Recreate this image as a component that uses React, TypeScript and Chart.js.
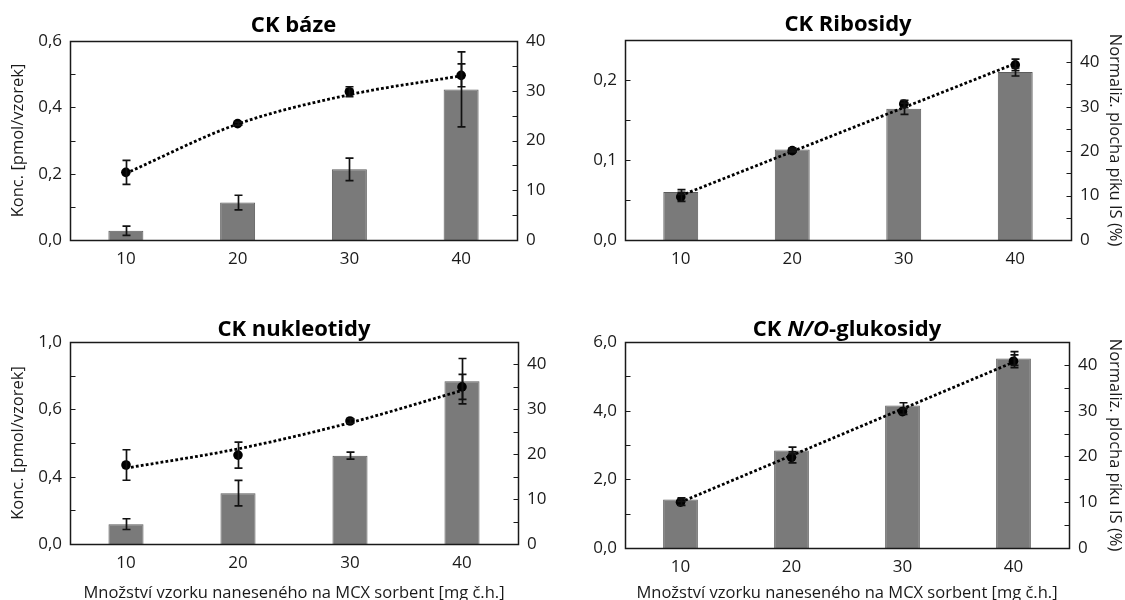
import React, { useEffect, useRef } from "react";
import { Chart, registerables } from "chart.js";

Chart.register(...registerables);

// ---------- data ----------
const categories = ["10", "20", "30", "40"];
const areaTickLabels = ["0", "10", "20", "30", "40"];

// CK báze
const bazeConc = [0.028, 0.113, 0.213, 0.454];
const bazeConcErr = [0.014, 0.022, 0.034, 0.113];
const bazeArea = [13.6, 23.4, 29.8, 33.1];
const bazeAreaErr = [2.4, 0.3, 1.0, 2.3];
const bazeTrend = [13.4, 23.3, 29.2, 33.0];
const bazeConcTicks = ["0,0", "0,2", "0,4", "0,6"];

// CK Ribosidy
const riboConc = [0.06, 0.113, 0.164, 0.21];
const riboConcErr = [0.003, 0.002, 0.007, 0.005];
const riboArea = [9.7, 20.1, 30.6, 39.4];
const riboAreaErr = [1.0, 0.3, 0.8, 1.3];
const riboTrend = [10.0, 19.9, 29.8, 39.7];
const riboConcTicks = ["0,0", "0,1", "0,2"];

// CK nukleotidy
const nukConc = [0.118, 0.302, 0.525, 0.967];
const nukConcErr = [0.032, 0.076, 0.021, 0.135];
const nukArea = [17.6, 19.8, 27.4, 35.0];
const nukAreaErr = [3.4, 2.9, 0.5, 2.8];
const nukTrend = [16.9, 21.2, 27.0, 34.2];
const nukConcTicks = ["0,0", "0,4", "0,6", "1,0"];

// CK N/O-glukosidy
const glukConc = [1.41, 2.84, 4.15, 5.52];
const glukConcErr = [0.05, 0.1, 0.08, 0.2];
const glukArea = [10.0, 19.8, 29.8, 40.8];
const glukAreaErr = [0.7, 1.2, 0.6, 1.4];
const glukTrend = [10.0, 20.2, 30.4, 40.6];
const glukConcTicks = ["0,0", "2,0", "4,0", "6,0"];

const leftTitle = "Konc. [pmol/vzorek]";
const rightTitle = "Normaliz. plocha píku IS (%)";
const xTitle = "Množství vzorku naneseného na MCX sorbent [mg č.h.]";

// ---------- component ----------
const FONT = "'Open Sans', 'DejaVu Sans', sans-serif";
const TEXT = "#1a1a1a";

type Seg = { t: string; italic?: boolean };

type PanelProps = {
  x: number; y: number; w: number; h: number;
  area: { l: number; r: number; t: number; b: number };
  title: Seg[]; titleY: number;
  conc: number[]; concErr: number[];
  pts: number[]; ptsErr: number[]; trend: number[];
  yMax: number; yStep: number; yTicks: string[]; yLabelEvery: number;
  y2Max: number;
  showLeftTitle?: boolean; showRightTitle?: boolean; showXTitle?: boolean;
};

function Panel(p: PanelProps) {
  const ref = useRef<HTMLCanvasElement | null>(null);
  useEffect(() => {
    const canvas = ref.current!;
    const errorBars = {
      id: "errorBars",
      afterDatasetsDraw(chart: any) {
        const ctx = chart.ctx;
        chart.data.datasets.forEach((ds: any, i: number) => {
          const errs = ds.errors;
          if (!errs) return;
          const meta = chart.getDatasetMeta(i);
          const scale = chart.scales[ds.yAxisID];
          ctx.save();
          ctx.strokeStyle = "#111";
          ctx.lineWidth = 1.7;
          meta.data.forEach((el: any, j: number) => {
            const v = ds.data[j];
            const e = errs[j];
            const x = Math.round(el.x) + 0.5;
            const ya = scale.getPixelForValue(v + e);
            const yb = scale.getPixelForValue(v - e);
            ctx.beginPath();
            ctx.moveTo(x, ya);
            ctx.lineTo(x, yb);
            ctx.moveTo(x - 4, ya);
            ctx.lineTo(x + 4, ya);
            ctx.moveTo(x - 4, yb);
            ctx.lineTo(x + 4, yb);
            ctx.stroke();
          });
          ctx.restore();
        });
      },
    };
    const frame = {
      id: "frame",
      afterDraw(chart: any) {
        const ctx = chart.ctx;
        const a = chart.chartArea;
        ctx.save();
        ctx.strokeStyle = "#1a1a1a";
        ctx.lineWidth = 1.5;
        const l = Math.round(a.left) + 0.5;
        const r = Math.round(a.right) + 0.5;
        const t = Math.round(a.top) + 0.5;
        const b = Math.round(a.bottom) + 0.5;
        ctx.strokeRect(l, t, r - l, b - t);
        ctx.lineWidth = 1.2;
        ctx.beginPath();
        chart.scales.y.ticks.forEach((tk: any) => {
          const py = Math.round(chart.scales.y.getPixelForValue(tk.value)) + 0.5;
          ctx.moveTo(l, py);
          ctx.lineTo(l + 5, py);
        });
        chart.scales.y2.ticks.forEach((tk: any) => {
          const py = Math.round(chart.scales.y2.getPixelForValue(tk.value)) + 0.5;
          ctx.moveTo(r - 5, py);
          ctx.lineTo(r, py);
        });
        ctx.stroke();
        // title
        const cx = (a.left + a.right) / 2;
        const fontFor = (s: Seg) => `${s.italic ? "italic " : ""}bold 22px ${FONT}`;
        let total = 0;
        p.title.forEach((s) => {
          ctx.font = fontFor(s);
          total += ctx.measureText(s.t).width;
        });
        let xx = cx - total / 2;
        ctx.fillStyle = "#000";
        ctx.textBaseline = "middle";
        ctx.textAlign = "left";
        p.title.forEach((s) => {
          ctx.font = fontFor(s);
          ctx.fillText(s.t, xx, p.titleY);
          xx += ctx.measureText(s.t).width;
        });
        ctx.restore();
      },
    };

    const { l, r, t, b } = p.area;
    const chart = new Chart(canvas, {
      type: "bar",
      data: {
        labels: categories,
        datasets: [
          {
            type: "line",
            data: p.pts,
            yAxisID: "y2",
            showLine: false,
            pointRadius: 4.8,
            pointBackgroundColor: "#000",
            pointBorderColor: "#000",
            pointBorderWidth: 0,
            order: 1,
            errors: p.ptsErr,
          } as any,
          {
            type: "line",
            data: p.trend,
            yAxisID: "y2",
            borderColor: "#000",
            borderWidth: 2.8,
            borderDash: [2.8, 2.2],
            pointRadius: 0,
            cubicInterpolationMode: "monotone",
            fill: false,
            order: 2,
          } as any,
          {
            type: "bar",
            data: p.conc,
            yAxisID: "y",
            backgroundColor: "#7a7a7a",
            borderColor: "#5c5c5c",
            borderWidth: 1,
            categoryPercentage: 1,
            barPercentage: 0.313,
            order: 3,
            errors: p.concErr,
          } as any,
        ],
      },
      options: {
        responsive: false,
        devicePixelRatio: 1,
        animation: false,
        layout: { padding: { top: t, left: 0, right: 0, bottom: 0 } },
        plugins: { legend: { display: false }, tooltip: { enabled: false }, title: { display: false } },
        scales: {
          x: {
            type: "category",
            offset: true,
            grid: { display: false, drawTicks: false },
            border: { display: false },
            ticks: { font: { family: FONT, size: 17 }, color: TEXT, padding: 9, maxRotation: 0 },
            title: {
              display: !!p.showXTitle,
              text: xTitle,
              font: { family: FONT, size: 16.5 },
              color: TEXT,
              padding: { top: 0, bottom: -3 },
            },
            afterFit: (s: any) => { s.height = p.h - b; },
          },
          y: {
            position: "left",
            min: 0,
            max: p.yMax,
            grid: { display: false, drawTicks: false },
            border: { display: false },
            ticks: {
              stepSize: p.yStep,
              autoSkip: false,
              padding: 8,
              font: { family: FONT, size: 17 },
              color: TEXT,
              callback: (_v: any, i: number) =>
                i % p.yLabelEvery === 0 ? (p.yTicks[i / p.yLabelEvery] ?? "") : "",
            },
            title: {
              display: !!p.showLeftTitle,
              text: leftTitle,
              font: { family: FONT, size: 16.5 },
              color: TEXT,
              padding: { top: 8, bottom: 0 },
            },
            afterFit: (s: any) => { s.width = l; },
          },
          y2: {
            position: "right",
            min: 0,
            max: p.y2Max,
            grid: { display: false, drawTicks: false },
            border: { display: false },
            ticks: {
              stepSize: 5,
              autoSkip: false,
              padding: 9,
              font: { family: FONT, size: 17 },
              color: TEXT,
              callback: (_v: any, i: number) => (i % 2 === 0 ? (areaTickLabels[i / 2] ?? "") : ""),
            },
            title: {
              display: !!p.showRightTitle,
              text: rightTitle,
              font: { family: FONT, size: 16.5 },
              color: TEXT,
              padding: { top: 0, bottom: 0 },
            },
            afterFit: (s: any) => { s.width = p.w - r; },
          },
        },
      } as any,
      plugins: [errorBars, frame],
    });
    return () => chart.destroy();
  }, []);
  return (
    <canvas
      ref={ref}
      width={p.w}
      height={p.h}
      style={{ position: "absolute", left: p.x, top: p.y, width: p.w, height: p.h }}
    />
  );
}

export default function App() {
  return (
    <div style={{ position: "absolute", left: 0, top: 0, width: 1125, height: 600, background: "#fff" }}>
      <Panel
        x={0} y={0} w={560} h={300}
        area={{ l: 70, r: 517, t: 41, b: 240 }}
        title={[{ t: "CK báze" }]} titleY={26}
        conc={bazeConc} concErr={bazeConcErr}
        pts={bazeArea} ptsErr={bazeAreaErr} trend={bazeTrend}
        yMax={0.6} yStep={0.1} yTicks={bazeConcTicks} yLabelEvery={2}
        y2Max={40}
        showLeftTitle
      />
      <Panel
        x={560} y={0} w={565} h={300}
        area={{ l: 65, r: 511, t: 40, b: 240 }}
        title={[{ t: "CK Ribosidy" }]} titleY={25}
        conc={riboConc} concErr={riboConcErr}
        pts={riboArea} ptsErr={riboAreaErr} trend={riboTrend}
        yMax={0.25} yStep={0.05} yTicks={riboConcTicks} yLabelEvery={2}
        y2Max={45}
        showRightTitle
      />
      <Panel
        x={0} y={300} w={560} h={300}
        area={{ l: 70, r: 518, t: 42, b: 244 }}
        title={[{ t: "CK nukleotidy" }]} titleY={30}
        conc={nukConc} concErr={nukConcErr}
        pts={nukArea} ptsErr={nukAreaErr} trend={nukTrend}
        yMax={1.2} yStep={0.2} yTicks={nukConcTicks} yLabelEvery={2}
        y2Max={45}
        showLeftTitle showXTitle
      />
      <Panel
        x={560} y={300} w={565} h={300}
        area={{ l: 65, r: 509, t: 42, b: 248 }}
        title={[{ t: "CK " }, { t: "N/O", italic: true }, { t: "-glukosidy" }]} titleY={30}
        conc={glukConc} concErr={glukConcErr}
        pts={glukArea} ptsErr={glukAreaErr} trend={glukTrend}
        yMax={6} yStep={1} yTicks={glukConcTicks} yLabelEvery={2}
        y2Max={45}
        showRightTitle showXTitle
      />
    </div>
  );
}
